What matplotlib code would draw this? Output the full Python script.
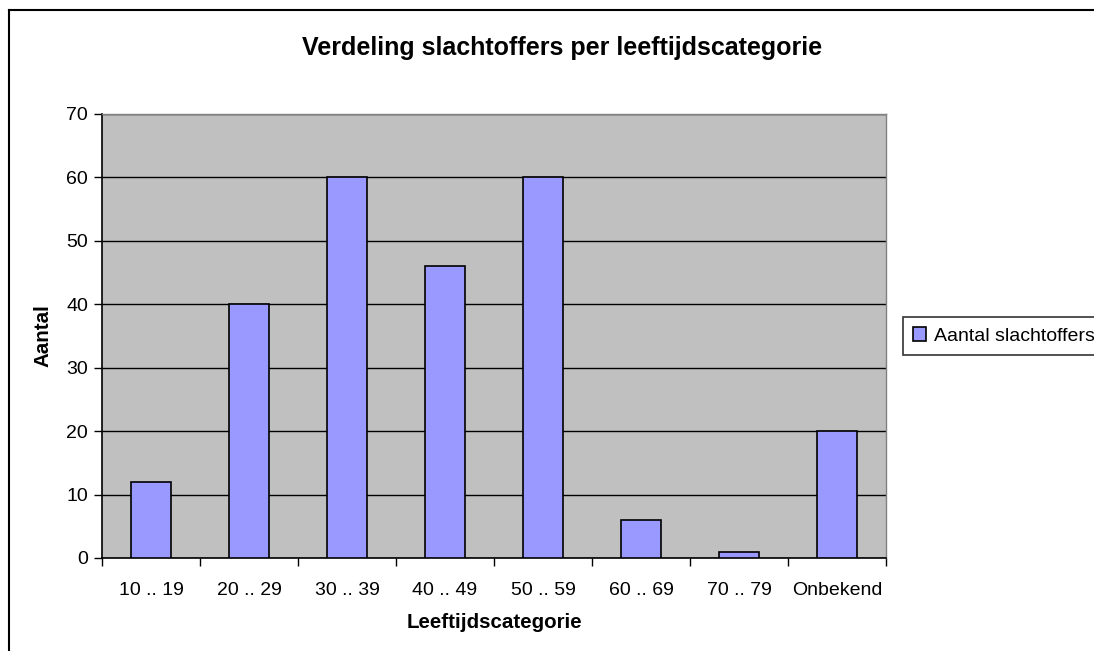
import numpy as np
import matplotlib.pyplot as plt
from matplotlib.lines import Line2D

# data
categories = ['10 .. 19', '20 .. 29', '30 .. 39', '40 .. 49', '50 .. 59', '60 .. 69', '70 .. 79', 'Onbekend']
slachtoffers = [12, 40, 60, 46, 60, 6, 1, 20]

plt.rcParams['font.family'] = ['Liberation Sans', 'DejaVu Sans']

fig = plt.figure(figsize=(10.94, 6.51), dpi=100)
ax = fig.add_axes([102/1094, 1 - 558/651, 784/1094, 444/651])
ax.set_facecolor('#C0C0C0')

x = np.arange(len(categories))
ax.bar(x, slachtoffers, width=0.4, color='#9999FF', edgecolor='black', linewidth=1.2,
       label='Aantal slachtoffers', zorder=3)

ax.set_xlim(-0.5, len(categories) - 0.5)
ax.set_ylim(0, 70)
ax.set_yticks(range(0, 71, 10))
ax.yaxis.grid(True, color='black', linewidth=1, zorder=1)

# ticks between categories, labels at centres
ax.set_xticks(np.arange(-0.5, len(categories), 1))
ax.set_xticklabels([])
ax.set_xticks(x, minor=True)
ax.set_xticklabels(categories, minor=True)
ax.tick_params(axis='x', which='major', length=6, width=1, direction='out')
ax.tick_params(axis='x', which='minor', length=0, pad=17, labelsize=14)
ax.tick_params(axis='y', length=6, width=1, labelsize=14, pad=4)

for s in ['top', 'right']:
    ax.spines[s].set_color('#808080')
    ax.spines[s].set_linewidth(1)
for s in ['left', 'bottom']:
    ax.spines[s].set_color('black')
    ax.spines[s].set_linewidth(1.2)

fig.text(562/1094, 1 - 48/651, 'Verdeling slachtoffers per leeftijdscategorie',
         fontsize=18, fontweight='bold', ha='center', va='center')
ax.set_xlabel('Leeftijdscategorie', fontsize=14.8, fontweight='bold', labelpad=10)
ax.set_ylabel('Aantal', fontsize=14.8, fontweight='bold', labelpad=10)

leg = fig.legend(loc='center left', bbox_to_anchor=(903/1094, 1 - 336/651),
                 fontsize=14, frameon=True, fancybox=False, edgecolor='black',
                 handlelength=0.7, handleheight=0.7, handletextpad=0.4,
                 borderpad=0.5, borderaxespad=0)
leg.get_frame().set_linewidth(1.2)

# outer chart border (left and top only visible)
fig.add_artist(Line2D([9/1094, 9/1094], [0, 1 - 10/651], transform=fig.transFigure,
                      color='black', linewidth=1.5))
fig.add_artist(Line2D([9/1094, 1], [1 - 10/651, 1 - 10/651], transform=fig.transFigure,
                      color='black', linewidth=1.5))

fig.savefig('out.png', dpi=100)
